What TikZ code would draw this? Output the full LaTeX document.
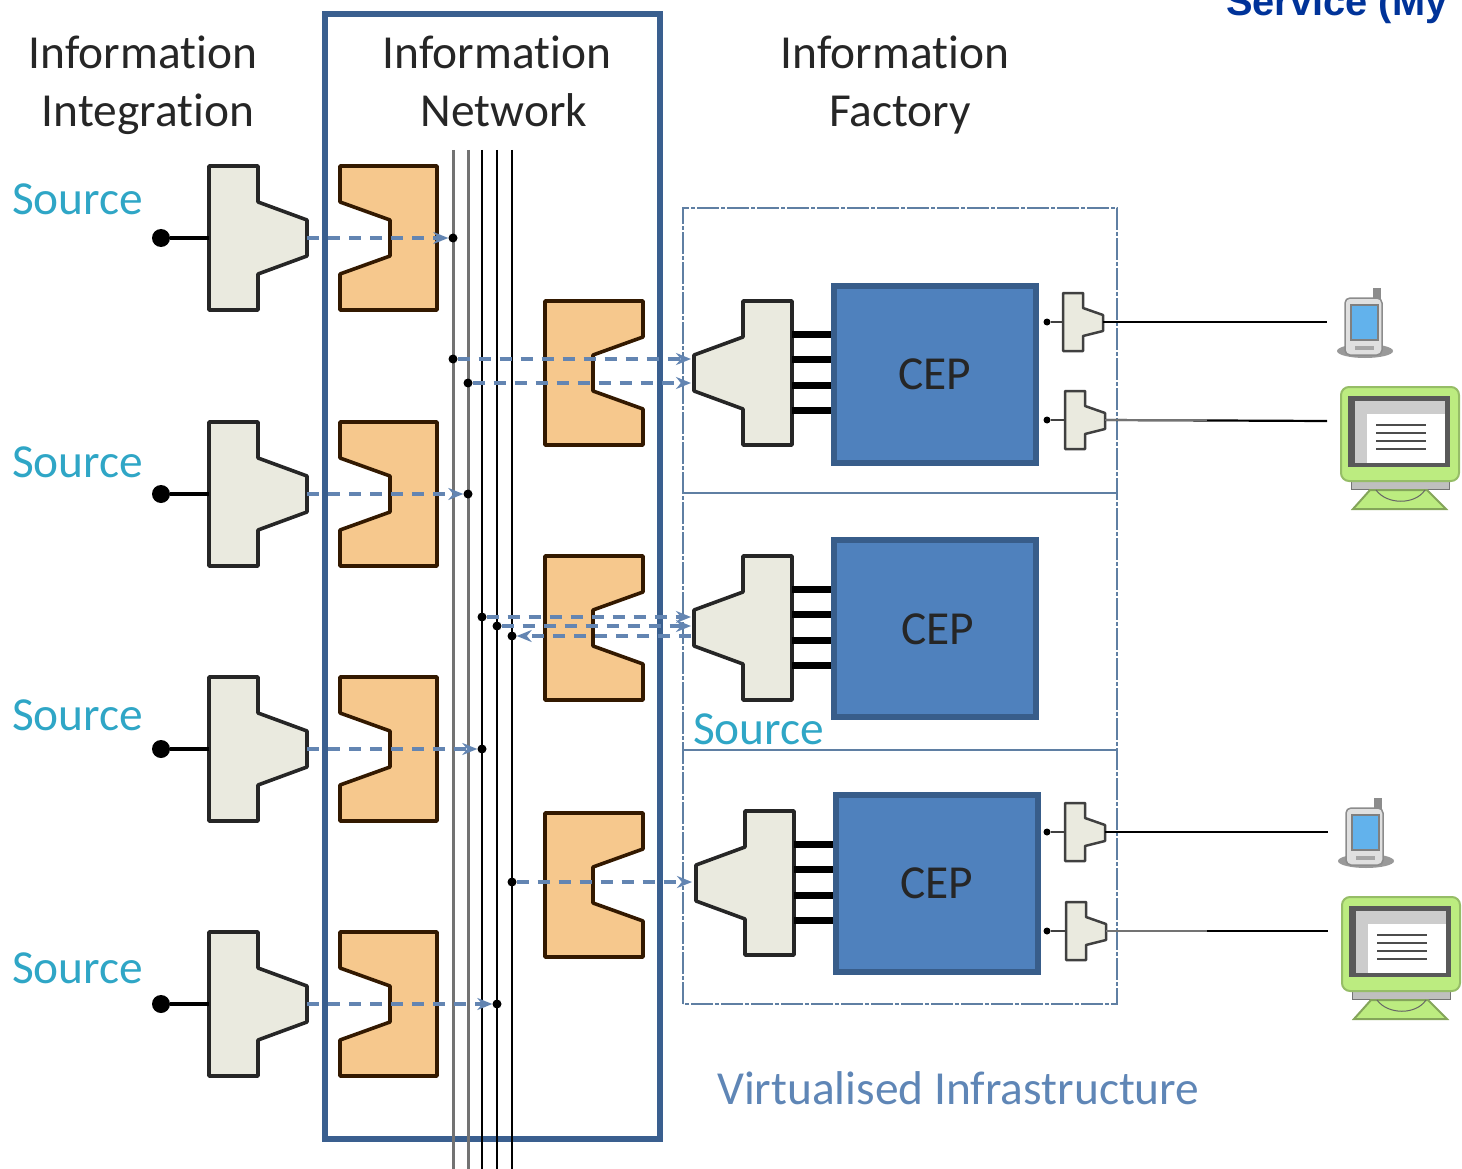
\documentclass[tikz,border=0pt]{standalone}
\usepackage{fontspec}
\setmainfont[Ligatures=CommonOff]{Carlito}
\newfontfamily\titlefont{Liberation Sans}
\definecolor{netblue}{HTML}{3A5F8F}
\definecolor{cepblue}{HTML}{4F81BD}
\definecolor{cepedge}{HTML}{385D8A}
\definecolor{gatefill}{HTML}{EAEADF}
\definecolor{storefill}{HTML}{F6C88D}
\definecolor{sourcecyan}{HTML}{2FA6C6}
\definecolor{flowblue}{HTML}{6385B2}
\definecolor{framecol}{HTML}{5F7FA3}
\definecolor{infracol}{HTML}{5F86B6}
\definecolor{titleblue}{HTML}{003399}
\definecolor{pcgreen}{HTML}{BCEC80}
\definecolor{screenblue}{HTML}{62B2EC}
\usetikzlibrary{arrows.meta}
\tikzset{
  head/.style={anchor=base,text=black!85,font=\fontsize{47.4}{56}\selectfont},
  srclabel/.style={anchor=base west,text=sourcecyan,font=\fontsize{47.4}{56}\selectfont},
  ceplabel/.style={draw=cepedge,line width=6pt,fill=cepblue,minimum width=202pt,minimum height=177pt,
    text=black!85,font=\fontsize{47.4}{56}\selectfont},
  gate/.style={draw=black!85,line width=3.6pt,fill=gatefill,line join=round},
  store/.style={draw=black!80!orange,line width=3.6pt,fill=storefill,line join=round},
  smallgate/.style={draw=black!75,line width=2.5pt,fill=gatefill,line join=round},
  bigdot/.style={circle,fill=black,inner sep=0pt,minimum size=18pt},
  dot/.style={circle,fill=black,inner sep=0pt,minimum size=9pt},
  tinydot/.style={circle,fill=black,inner sep=0pt,minimum size=7pt},
  flow/.style={draw=flowblue,line width=3.2pt,dash pattern=on 12pt off 9pt,-{Stealth[length=15pt,width=12pt]}},
  lead/.style={black,line width=4.5pt},
  bar/.style={black,line width=7pt},
  wire/.style={black,line width=2.2pt},
  busgray/.style={black!55,line width=3pt},
  busblack/.style={black,line width=2pt},
  frame/.style={framecol,line width=1.6pt,dash pattern=on 22pt off 2pt on 4pt off 2pt},
  srcgate/.pic={
    \draw[gate] (0,-72) -- (49,-72) -- (49,-36) -- (98,-18) -- (98,18) -- (49,36) -- (49,72) -- (0,72) -- cycle;
    \coordinate (-in) at (0,0);
    \coordinate (-out) at (98,0);
  },
  sinkgate/.pic={
    \draw[gate] (98,-72) -- (49,-72) -- (49,-36) -- (0,-18) -- (0,18) -- (49,36) -- (49,72) -- (98,72) -- cycle;
    \coordinate (-o1) at (98,-39);
    \coordinate (-o2) at (98,-14);
    \coordinate (-o3) at (98,12);
    \coordinate (-o4) at (98,37);
  },
  storeleft/.pic={
    \draw[store] (0,-72) -- (97,-72) -- (97,72) -- (0,72) -- (0,36) -- (50,18) -- (50,-18) -- (0,-36) -- cycle;
  },
  storeright/.pic={
    \draw[store] (0,-72) -- (98,-72) -- (98,-36) -- (48,-18) -- (48,18) -- (98,36) -- (98,72) -- (0,72) -- cycle;
  },
  tapgate/.pic={
    \draw[smallgate] (0,-29) -- (20,-29) -- (20,-14) -- (40,-7) -- (40,9) -- (20,14) -- (20,29) -- (0,29) -- cycle;
    \coordinate (-in) at (0,0);
    \coordinate (-out) at (40,0);
  },
  phone/.pic={
    \fill[black!40] (38,29) ellipse (28 and 7);
    \fill[black!45] (46,-34) rectangle (54,-22);
    \draw[black!45,fill=black!12,line width=1.5pt,rounded corners=5pt] (18,-24) rectangle (55,33);
    \draw[black!50,fill=screenblue,line width=1.5pt] (24,-17) rectangle (51,18);
    \fill[black!35] (28,24) rectangle (47,28);
    \coordinate (-in) at (0,0);
  },
  monitor/.pic={
    \fill[black!25,draw=black!55,line width=1pt] (24,60) rectangle (122,68);
    \draw[pcgreen!70!black,fill=pcgreen,line width=2pt] (43,69) -- (100,69) -- (119,88) -- (26,88) -- cycle;
    \draw[black!60,line width=1pt] (49,69) .. controls (60,84) and (88,84) .. (98,69);
    \draw[pcgreen!80!black,fill=pcgreen,line width=2pt,rounded corners=8pt] (14,-34) rectangle (132,60);
    \fill[black!65] (21,-25) rectangle (123,46);
    \fill[white] (28,-20) rectangle (118,42);
    \fill[black!20] (28,-20) rectangle (118,-7);
    \fill[black!20] (28,-7) rectangle (40,42);
    \draw[black!70,line width=1.5pt] (49,4) -- (99,4) (49,12) -- (99,12) (49,20) -- (99,20) (49,28) -- (99,28);
    \coordinate (-in) at (0,0);
  },
}
\begin{document}
\begin{tikzpicture}[x=1pt,y=-1pt]
    \useasboundingbox (0,0) rectangle (1462,1169);
    \clip (0,0) rectangle (1462,1169);

    \node[anchor=base west,text=titleblue,font=\titlefont\bfseries\fontsize{39.8}{46}\selectfont,inner sep=0pt] (titlepart) at (1226,16) {Service (My};

    \node[head] (hinfoA) at (143,69) {Information};
    \node[head] (hinteg) at (148,127) {Integration};
    \node[head] (hinfoB) at (497,69) {Information};
    \node[head] (hnet) at (504,127) {Network};
    \node[head] (hinfoC) at (895,69) {Information};
    \node[head] (hfact) at (900,127) {Factory};

    \draw[netblue,line width=6pt] (325,14) rectangle (660,1139);

    \draw[frame] (683,1004) -- (683,208) -- (1117,208) -- (1117,1004) -- cycle;
    \draw[framecol,line width=1.6pt] (683,493) -- (1117,493);
    \draw[framecol,line width=1.6pt] (683,750) -- (1117,750);

    \draw[busgray] (453,150) -- (453,1169);
    \draw[busgray] (468,150) -- (468,1169);
    \draw[busblack] (482,150) -- (482,1169);
    \draw[busblack] (497,150) -- (497,1169);
    \draw[busblack] (512,150) -- (512,1169);

    \node[srclabel,inner sep=0pt] (srcA) at (12,215) {Source};
    \node[srclabel,inner sep=0pt] (srcB) at (12,477) {Source};
    \node[srclabel,inner sep=0pt] (srcC) at (12,730) {Source};
    \node[srclabel,inner sep=0pt] (srcD) at (12,983) {Source};
    \node[srclabel,inner sep=0pt] (srcE) at (693,744) {Source};

    \node[bigdot] (pinA) at (161,238) {};
    \node[bigdot] (pinB) at (161,494) {};
    \node[bigdot] (pinC) at (161,749) {};
    \node[bigdot] (pinD) at (161,1004) {};

    \pic (gateA) at (209,238) {srcgate};
    \pic (gateB) at (209,494) {srcgate};
    \pic (gateC) at (209,749) {srcgate};
    \pic (gateD) at (209,1004) {srcgate};

    \draw[lead] (pinA) -- (gateA-in);
    \draw[lead] (pinB) -- (gateB-in);
    \draw[lead] (pinC) -- (gateC-in);
    \draw[lead] (pinD) -- (gateD-in);

    \pic at (340,238) {storeleft};
    \pic at (340,494) {storeleft};
    \pic at (340,749) {storeleft};
    \pic at (340,1004) {storeleft};

    \pic at (545,373) {storeright};
    \pic at (545,628) {storeright};
    \pic at (545,885) {storeright};

    \pic (sinkA) at (694,373) {sinkgate};
    \pic (sinkB) at (694,628) {sinkgate};
    \pic (sinkC) at (696,883) {sinkgate};

    \node[ceplabel] (cepA) at (935,374) {CEP};
    \node[ceplabel] (cepB) at (935,628.5) {};
    \node[ceplabel] (cepC) at (937,883.5) {CEP};
    \node[anchor=base,text=black!85,font=\fontsize{47.4}{56}\selectfont] (cepBtext) at (938,644) {CEP};

    \draw[bar] (sinkA-o1) -- (sinkA-o1 -| cepA.west);
    \draw[bar] (sinkA-o2) -- (sinkA-o2 -| cepA.west);
    \draw[bar] (sinkA-o3) -- (sinkA-o3 -| cepA.west);
    \draw[bar] (sinkA-o4) -- (sinkA-o4 -| cepA.west);
    \draw[bar] (sinkB-o1) -- (sinkB-o1 -| cepB.west);
    \draw[bar] (sinkB-o2) -- (sinkB-o2 -| cepB.west);
    \draw[bar] (sinkB-o3) -- (sinkB-o3 -| cepB.west);
    \draw[bar] (sinkB-o4) -- (sinkB-o4 -| cepB.west);
    \draw[bar] (sinkC-o1) -- (sinkC-o1 -| cepC.west);
    \draw[bar] (sinkC-o2) -- (sinkC-o2 -| cepC.west);
    \draw[bar] (sinkC-o3) -- (sinkC-o3 -| cepC.west);
    \draw[bar] (sinkC-o4) -- (sinkC-o4 -| cepC.west);

    \node[dot] (busA) at (453,238) {};
    \node[dot] (busB) at (468,494) {};
    \node[dot] (busC) at (482,749) {};
    \node[dot] (busD) at (497,1004) {};
    \node[dot] (busE) at (453,359) {};
    \node[dot] (busF) at (468,383) {};
    \node[dot] (busG) at (482,617) {};
    \node[dot] (busH) at (497,626) {};
    \node[dot] (busI) at (512,636) {};
    \node[dot] (busJ) at (512,882) {};

    \coordinate (inE) at (691,359);
    \coordinate (inF) at (691,383);
    \coordinate (inG) at (691,617);
    \coordinate (inH) at (691,626);
    \coordinate (inI) at (691,636);
    \coordinate (inJ) at (692,882);

    \draw[flow] (gateA-out) -- (busA);
    \draw[flow] (gateB-out) -- (busB);
    \draw[flow] (gateC-out) -- (busC);
    \draw[flow] (gateD-out) -- (busD);
    \draw[flow] (busE) -- (inE);
    \draw[flow] (busF) -- (inF);
    \draw[flow] (busG) -- (inG);
    \draw[flow] (busH) -- (inH);
    \draw[flow] (inI) -- (busI);
    \draw[flow] (busJ) -- (inJ);

    \node[tinydot] (tapA) at (1047,322) {};
    \node[tinydot] (tapB) at (1047,420) {};
    \node[tinydot] (tapC) at (1047,832) {};
    \node[tinydot] (tapD) at (1047,931) {};

    \pic (smallA) at (1063,322) {tapgate};
    \pic (smallB) at (1065,420) {tapgate};
    \pic (smallC) at (1065,832) {tapgate};
    \pic (smallD) at (1066,931) {tapgate};

    \draw[black!75,line width=2.5pt] (tapA) -- (smallA-in);
    \draw[black!75,line width=2.5pt] (tapB) -- (smallB-in);
    \draw[black!75,line width=2.5pt] (tapC) -- (smallC-in);
    \draw[black!75,line width=2.5pt] (tapD) -- (smallD-in);

    \pic (phoneA) at (1327,322) {phone};
    \pic (pcA) at (1327,421) {monitor};
    \pic (phoneB) at (1328,832) {phone};
    \pic (pcB) at (1328,931) {monitor};

    \draw[wire] (smallA-out) -- (phoneA-in);
    \draw[wire] (smallB-out) -- (pcA-in);
    \draw[wire] (smallC-out) -- (phoneB-in);
    \draw[wire] (smallD-out) -- (pcB-in);
    \draw[black!55,line width=2.4pt] (smallB-out) -- ++(102,0);
    \draw[black!55,line width=2.4pt] (smallD-out) -- ++(101,0);

    \node[anchor=base west,text=infracol,inner sep=0pt,font=\fontsize{47.4}{56}\selectfont] (infra) at (717,1104) {Virtualised Infrastructure};
\end{tikzpicture}
\end{document}
